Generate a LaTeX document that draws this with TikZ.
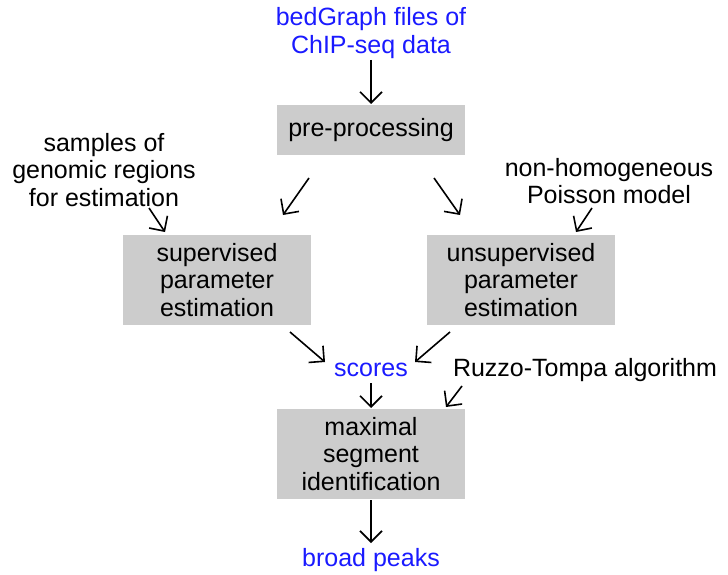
\documentclass[tikz,border=0pt]{standalone}
\usepackage{fontspec}
\setmainfont{Liberation Sans}
\usetikzlibrary{arrows.meta}
\definecolor{boxgray}{HTML}{CCCCCC}
\definecolor{txtblue}{HTML}{1A1AFF}
\begin{document}
\begin{tikzpicture}[x=1pt,y=-1pt,
  txt/.style={font=\fontsize{25}{27.5}\selectfont, align=center, inner sep=0pt},
  bluetxt/.style={txt, text=txtblue},
  gbox/.style={txt, fill=boxgray, minimum width=188pt},
  arr/.style={line width=1.6pt, -{Straight Barb[length=11pt,width=22pt,line width=1.6pt]}}]
\useasboundingbox (0,0) rectangle (728,575);
% nodes
\node[bluetxt] (bed) at (371,33) {bedGraph files of\\ChIP-seq data};
\node[gbox, minimum height=49pt] (pre) at (371,130) {pre-processing};
\node[txt] (samples) at (104,170) {samples of\\genomic regions\\for estimation};
\node[txt] (poisson) at (609,181) {non-homogeneous\\Poisson model};
\node[gbox, minimum height=90pt] (sup) at (217,280) {supervised\\parameter\\estimation};
\node[gbox, minimum height=90pt] (unsup) at (521,280) {unsupervised\\parameter\\estimation};
\node[bluetxt] (scores) at (371,370) {scores};
\node[txt] (ruzzo) at (585,370) {Ruzzo-Tompa algorithm};
\node[gbox, minimum height=90pt] (maxseg) at (371,454) {maximal\\segment\\identification};
\node[bluetxt] (broad) at (371,560) {broad peaks};
% connector end points
\coordinate (b1) at (371,60);   \coordinate (p1) at (371,104);
\coordinate (p2) at (309,178);  \coordinate (s2) at (283,215);
\coordinate (p3) at (434,178);  \coordinate (u3) at (460,215);
\coordinate (sa) at (149,208);  \coordinate (sb) at (165,232);
\coordinate (pa) at (592,208);  \coordinate (pb) at (576,232);
\coordinate (s6) at (290,332);  \coordinate (c6) at (325,362);
\coordinate (u7) at (450,332);  \coordinate (c7) at (415,362);
\coordinate (c8) at (371,383);  \coordinate (m8) at (371,408);
\coordinate (r9) at (462,386);  \coordinate (m9) at (446,407);
\coordinate (m10) at (371,500); \coordinate (b10) at (371,543);
% connectors
\draw[arr] (b1) -- (p1);
\draw[arr] (p2) -- (s2);
\draw[arr] (p3) -- (u3);
\draw[arr] (sa) -- (sb);
\draw[arr] (pa) -- (pb);
\draw[arr] (s6) -- (c6);
\draw[arr] (u7) -- (c7);
\draw[arr] (c8) -- (m8);
\draw[arr] (r9) -- (m9);
\draw[arr] (m10) -- (b10);
\end{tikzpicture}
\end{document}
